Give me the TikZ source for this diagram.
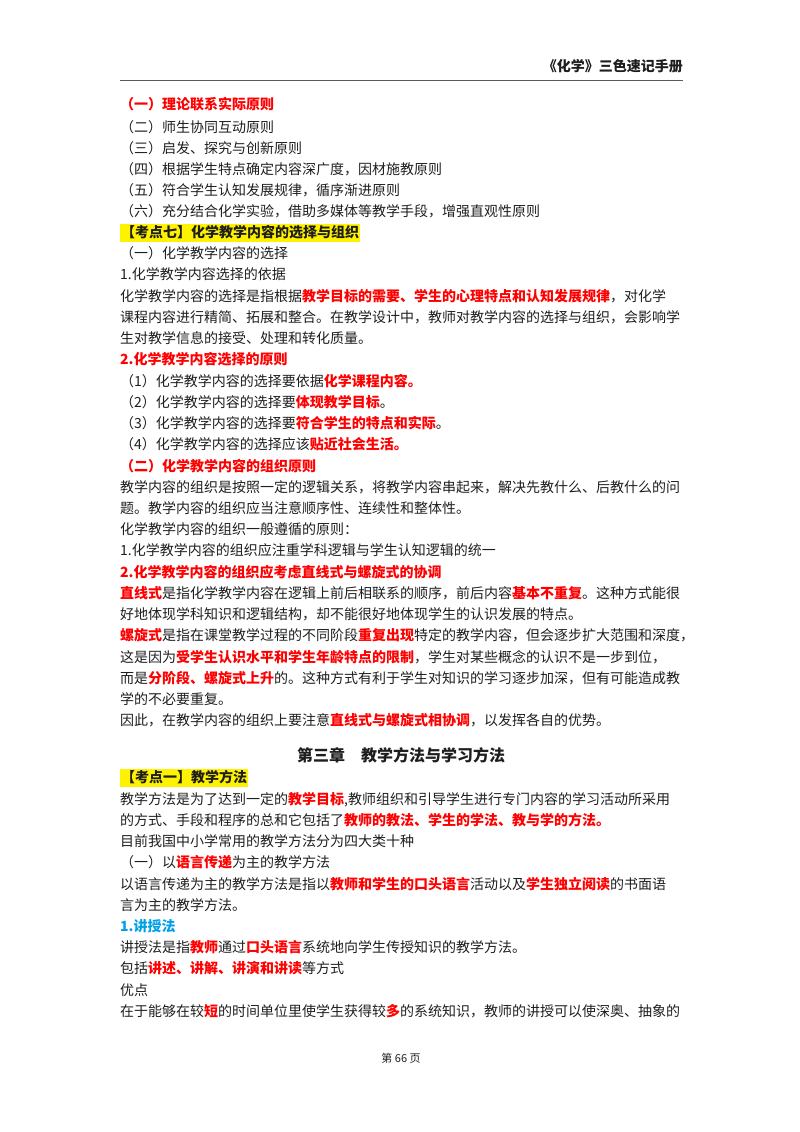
\documentclass[tikz,border=0pt]{standalone}
\usepackage{fontspec}
\setmainfont{Noto Sans CJK SC}
\XeTeXlinebreaklocale "zh"
\XeTeXlinebreakskip=0pt plus 2pt
\definecolor{hr}{RGB}{255,0,0}
\definecolor{hb}{RGB}{0,160,233}
\definecolor{tx}{RGB}{30,30,30}
\newcommand{\R}[1]{{\bfseries\color{hr}#1}}
\newcommand{\F}[1]{\makebox[563pt][s]{#1}}
\tikzset{ln/.style={anchor=west,inner sep=0pt,text height=11pt,text depth=3pt,font=\fontsize{14}{16}\selectfont,text=tx},
hl/.style={ln,fill=yellow,inner xsep=1pt,inner ysep=2pt,font=\fontsize{14}{16}\selectfont\bfseries}}
\begin{document}
\begin{tikzpicture}[x=1pt,y=-1pt]
\useasboundingbox (0,0) rectangle (800,1132);
\node[ln,anchor=east,font=\fontsize{14}{16}\selectfont\bfseries] (hd) at (683,67) {《化学》三色速记手册};
\coordinate (ra) at (120,80); \coordinate (rb) at (683,80);
\draw[gray!70!black,line width=1pt] (ra) -- (rb);
\node[ln] (l1) at (120,105) {\R{（一）理论联系实际原则}};
\node[ln] (l2) at (120,128) {（二）师生协同互动原则};
\node[ln] (l3) at (120,149) {（三）启发、探究与创新原则};
\node[ln] (l4) at (120,170) {（四）根据学生特点确定内容深广度，因材施教原则};
\node[ln] (l5) at (120,191) {（五）符合学生认知发展规律，循序渐进原则};
\node[ln] (l6) at (120,212) {（六）充分结合化学实验，借助多媒体等教学手段，增强直观性原则};
\node[hl] (l7) at (120,233) {【考点七】化学教学内容的选择与组织};
\node[ln] (l8) at (120,254) {（一）化学教学内容的选择};
\node[ln] (l9) at (120,275) {1.化学教学内容选择的依据};
\node[ln] (l10) at (120,297) {\F{化学教学内容的选择是指根据\R{教学目标的需要、学生的心理特点和认知发展规律}，对化学}};
\node[ln] (l11) at (120,318) {\F{课程内容进行精简、拓展和整合。在教学设计中，教师对教学内容的选择与组织，会影响学}};
\node[ln] (l12) at (120,339) {生对教学信息的接受、处理和转化质量。};
\node[ln] (l13) at (120,360) {\R{2.化学教学内容选择的原则}};
\node[ln] (l14) at (120,382) {（1）化学教学内容的选择要依据\R{化学课程内容。}};
\node[ln] (l15) at (120,403) {（2）化学教学内容的选择要\R{体现教学目标}。};
\node[ln] (l16) at (120,424) {（3）化学教学内容的选择要\R{符合学生的特点和实际}。};
\node[ln] (l17) at (120,445) {（4）化学教学内容的选择应该\R{贴近社会生活。}};
\node[ln] (l18) at (120,467) {\R{（二）化学教学内容的组织原则}};
\node[ln] (l19) at (120,488) {\F{教学内容的组织是按照一定的逻辑关系，将教学内容串起来，解决先教什么、后教什么的问}};
\node[ln] (l20) at (120,509) {题。教学内容的组织应当注意顺序性、连续性和整体性。};
\node[ln] (l21) at (120,530) {化学教学内容的组织一般遵循的原则：};
\node[ln] (l22) at (120,551) {1.化学教学内容的组织应注重学科逻辑与学生认知逻辑的统一};
\node[ln] (l23) at (120,573) {\R{2.化学教学内容的组织应考虑直线式与螺旋式的协调}};
\node[ln] (l24) at (120,594) {\F{\R{直线式}是指化学教学内容在逻辑上前后相联系的顺序，前后内容\R{基本不重复}。这种方式能很}};
\node[ln] (l25) at (120,615) {好地体现学科知识和逻辑结构，却不能很好地体现学生的认识发展的特点。};
\node[ln] (l26) at (120,636) {\F{\R{螺旋式}是指在课堂教学过程的不同阶段\R{重复出现}特定的教学内容，但会逐步扩大范围和深度，}};
\node[ln] (l27) at (120,658) {\F{这是因为\R{受学生认识水平和学生年龄特点的限制}，学生对某些概念的认识不是一步到位，}};
\node[ln] (l28) at (120,679) {\F{而是\R{分阶段、螺旋式上升}的。这种方式有利于学生对知识的学习逐步加深，但有可能造成教}};
\node[ln] (l29) at (120,700) {学的不必要重复。};
\node[ln] (l30) at (120,721) {因此，在教学内容的组织上要注意\R{直线式与螺旋式相协调}，以发挥各自的优势。};
\node[ln,anchor=center,font=\fontsize{16}{18}\selectfont\bfseries] (ch) at (401,757) {第三章\hspace{1em}教学方法与学习方法};
\node[hl] (l31) at (120,778) {【考点一】教学方法};
\node[ln] (l32) at (120,800) {\F{教学方法是为了达到一定的\R{教学目标},教师组织和引导学生进行专门内容的学习活动所采用}};
\node[ln] (l33) at (120,821) {的方式、手段和程序的总和它包括了\R{教师的教法、学生的学法、教与学的方法。}};
\node[ln] (l34) at (120,842) {目前我国中小学常用的教学方法分为四大类十种};
\node[ln] (l35) at (120,863) {（一）以\R{语言传递}为主的教学方法};
\node[ln] (l36) at (120,885) {\F{以语言传递为主的教学方法是指以\R{教师和学生的口头语言}活动以及\R{学生独立阅读}的书面语}};
\node[ln] (l37) at (120,906) {言为主的教学方法。};
\node[ln] (l38) at (120,927) {{\bfseries\color{hb}1.讲授法}};
\node[ln] (l39) at (120,948) {讲授法是指\R{教师}通过\R{口头语言}系统地向学生传授知识的教学方法。};
\node[ln] (l40) at (120,969) {包括\R{讲述、讲解、讲演和讲读}等方式};
\node[ln] (l41) at (120,991) {优点};
\node[ln] (l42) at (120,1012) {\F{在于能够在较\R{短}的时间单位里使学生获得较\R{多}的系统知识，教师的讲授可以使深奥、抽象的}};
\node[ln,anchor=center,font=\fontsize{11}{13}\selectfont] (pg) at (401,1058) {第 66 页};
\end{tikzpicture}
\end{document}
